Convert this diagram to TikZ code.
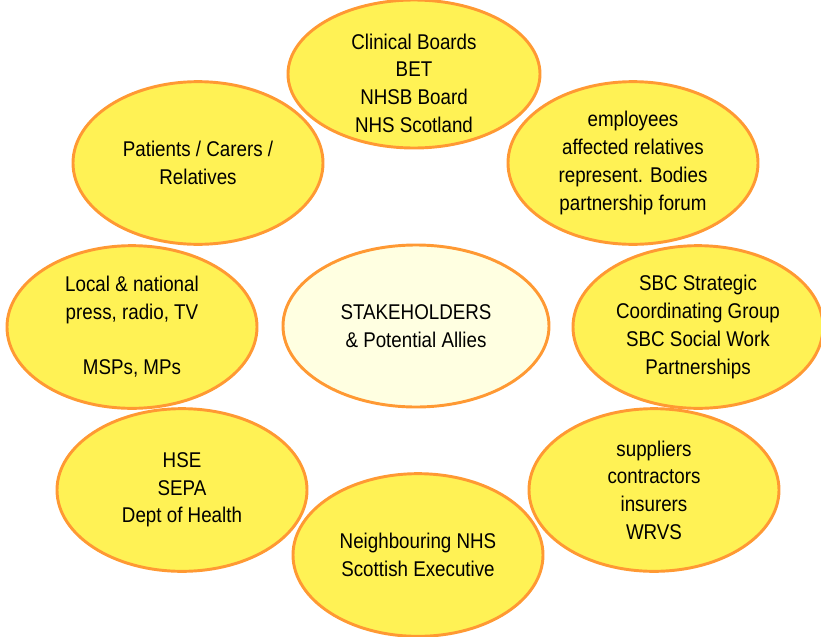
\documentclass[tikz,border=0pt]{standalone}
\usepackage{fontspec}
\setmainfont{Liberation Sans}[FakeStretch=0.88]
\usetikzlibrary{shapes.geometric}
\definecolor{ellfill}{RGB}{255,242,85}
\definecolor{ellline}{RGB}{255,153,51}
\definecolor{midfill}{RGB}{255,255,225}
\tikzset{
  stake/.style={ellipse, draw=ellline, line width=2.2pt, fill=ellfill, inner sep=0pt,
    minimum width=187.5pt, minimum height=122pt, align=center,
    font=\fontsize{16}{20.8}\selectfont},
  words/.style={align=center, inner sep=0pt, font=\fontsize{16}{20.8}\selectfont},
}
\begin{document}
\begin{tikzpicture}[x=0.75pt, y=-0.75pt]
\useasboundingbox (0,0) rectangle (821,636);

% top one sits against the edge
\node[stake, minimum width=189pt, minimum height=111pt] (boards) at (414,74) {};
\node[words] (boardstext) at (414,83) {Clinical Boards\\BET\\NHSB Board\\NHS Scotland};

\node[stake] (patients) at (198,163) {Patients / Carers /\\Relatives};
\node[stake] (staff) at (633,163) {employees\\affected relatives\\represent. Bodies\\partnership forum};
\node[stake] (media) at (132,327) {Local \& national\\press, radio, TV\\~\\MSPs, MPs};
\node[stake, fill=midfill, minimum width=199.5pt, minimum height=121.5pt] (centre) at (416,326) {STAKEHOLDERS\\\& Potential Allies};
\node[stake] (council) at (698,327) {SBC Strategic\\Coordinating Group\\SBC Social Work\\Partnerships};
\node[stake] (agencies) at (182,490) {HSE\\SEPA\\Dept of Health};
\node[stake] (suppliers) at (654,490) {suppliers\\contractors\\insurers\\WRVS};
\node[stake] (neighbours) at (418,555) {Neighbouring NHS\\Scottish Executive};

\end{tikzpicture}
\end{document}
